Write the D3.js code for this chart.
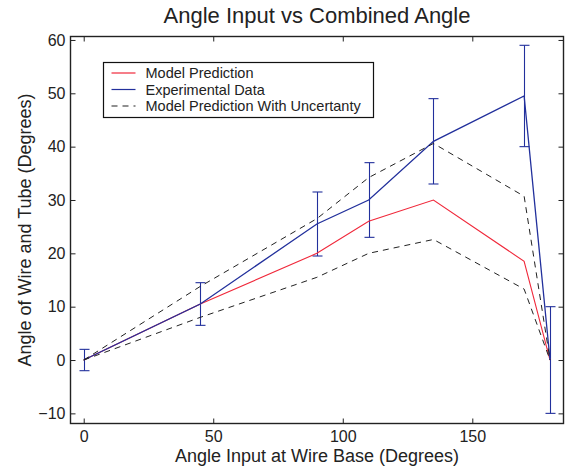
<!DOCTYPE html>
<html>
<head>
<meta charset="utf-8">
<script src="https://cdn.jsdelivr.net/npm/d3@7"></script>
<style>
  body { margin: 0; background: #fff; }
  text { font-family: "Liberation Sans", Arial, sans-serif; fill: #222; }
</style>
</head>
<body>
<svg id="chart" width="574" height="473"></svg>
<script>
// chart data
var angles = [0, 45, 90, 110, 135, 170, 180];
var modelPrediction = [0, 10.5, 20, 26, 30, 18.5, 0];
var experimental = [0, 10.5, 25.5, 30, 41, 49.5, 0];
var experimentalError = [2, 4, 6, 7, 8, 9.5, 10];
var upperBound = [0, 13.8, 26.5, 34.2, 40.6, 30.7, 0];
var lowerBound = [0, 8, 15.5, 20, 22.6, 13.3, 0];
var xTicks = [0, 50, 100, 150];
var yTicks = [-10, 0, 10, 20, 30, 40, 50, 60];
var legendLabels = ["Model Prediction", "Experimental Data", "Model Prediction With Uncertanty"];

var svg = d3.select("#chart"),
    plotLeft = 70.5,
    plotRight = 563.5,
    plotTop = 36.5,
    plotBottom = 423.5,
    redColor = "#f0283a",
    blueColor = "#22309c",
    tickLen = 5;

var x = d3.scaleLinear().domain([-5.1, 185.2]).range([plotLeft, plotRight]);
var y = d3.scaleLinear().domain([-11.9, 60.65]).range([plotBottom, plotTop]);

var line = d3.line()
    .x(function(d) { return x(d[0]); })
    .y(function(d) { return y(d[1]); });

function pairs(vals) {
    return angles.map(function(a, i) { return [a, vals[i]]; });
}

// error bars
var bars = svg.append("g").attr("class", "errorbars");
angles.forEach(function(a, i) {
    var lo = experimental[i] - experimentalError[i],
        hi = experimental[i] + experimentalError[i],
        cx = Math.round(x(a)) + 0.5;
    bars.append("line").attr("x1", cx).attr("x2", cx)
        .attr("y1", y(lo)).attr("y2", y(hi));
    [lo, hi].forEach(function(v) {
        bars.append("line").attr("x1", cx - 5).attr("x2", cx + 5)
            .attr("y1", y(v)).attr("y2", y(v));
    });
});
bars.selectAll("line").attr("stroke", blueColor).attr("stroke-width", 1.1);

// series lines
svg.append("path").datum(pairs(modelPrediction))
    .attr("d", line).attr("fill", "none").attr("stroke", redColor).attr("stroke-width", 1.1);
svg.append("path").datum(pairs(experimental))
    .attr("d", line).attr("fill", "none").attr("stroke", blueColor).attr("stroke-width", 1.3);
[upperBound, lowerBound].forEach(function(vals) {
    svg.append("path").datum(pairs(vals))
        .attr("d", line).attr("fill", "none").attr("stroke", "#222")
        .attr("stroke-width", 1).attr("stroke-dasharray", "6,5");
});

// box with inward ticks on all sides
var axes = svg.append("g").attr("class", "axes");
axes.append("g").attr("transform", "translate(0," + plotBottom + ")")
    .call(d3.axisBottom(x).tickValues(xTicks).tickSizeInner(-tickLen).tickSizeOuter(0).tickPadding(7));
axes.append("g").attr("transform", "translate(0," + plotTop + ")")
    .call(d3.axisTop(x).tickValues(xTicks).tickSizeInner(-tickLen).tickSizeOuter(0).tickFormat(""));
axes.append("g").attr("transform", "translate(" + plotLeft + ",0)")
    .call(d3.axisLeft(y).tickValues(yTicks).tickSizeInner(-tickLen).tickSizeOuter(0).tickPadding(5));
axes.append("g").attr("transform", "translate(" + plotRight + ",0)")
    .call(d3.axisRight(y).tickValues(yTicks).tickSizeInner(-tickLen).tickSizeOuter(0).tickFormat(""));
axes.selectAll(".domain").remove();
axes.selectAll(".tick line").attr("stroke", "#222");
axes.selectAll(".tick text").style("font-size", "16px").attr("fill", "#222");
svg.append("rect")
    .attr("x", plotLeft).attr("y", plotTop)
    .attr("width", plotRight - plotLeft).attr("height", plotBottom - plotTop)
    .attr("fill", "none").attr("stroke", "#222").attr("stroke-width", 1.4);

// titles
svg.append("text").attr("x", (plotLeft + plotRight) / 2).attr("y", 23)
    .attr("text-anchor", "middle").style("font-size", "22px")
    .text("Angle Input vs Combined Angle");
svg.append("text").attr("x", (plotLeft + plotRight) / 2).attr("y", 462)
    .attr("text-anchor", "middle").style("font-size", "18px")
    .text("Angle Input at Wire Base (Degrees)");
svg.append("text").attr("transform", "translate(31," + (plotTop + plotBottom) / 2 + ") rotate(-90)")
    .attr("text-anchor", "middle").style("font-size", "18px")
    .text("Angle of Wire and Tube (Degrees)");

// legend
var legend = svg.append("g").attr("transform", "translate(103.5,62.5)");
legend.append("rect").attr("width", 270).attr("height", 55)
    .attr("fill", "#fff").attr("stroke", "#111").attr("stroke-width", 1.2);
var swatches = [
    { color: redColor, dash: null },
    { color: blueColor, dash: null },
    { color: "#222", dash: "6,5" }
];
legendLabels.forEach(function(label, i) {
    var ly = 10.5 + i * 16.5;
    legend.append("line").attr("x1", 8).attr("x2", 32)
        .attr("y1", ly).attr("y2", ly)
        .attr("stroke", swatches[i].color).attr("stroke-width", 1.2)
        .attr("stroke-dasharray", swatches[i].dash);
    legend.append("text").attr("x", 42).attr("y", ly + 5)
        .style("font-size", "14.5px").text(label);
});
</script>
</body>
</html>
